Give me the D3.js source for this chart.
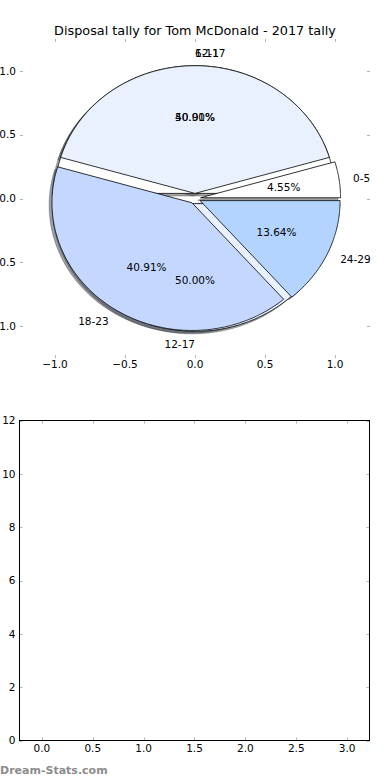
<!DOCTYPE html>
<html>
<head>
<meta charset="utf-8">
<script src="https://cdn.jsdelivr.net/npm/d3@7"></script>
<style>
  html, body { margin: 0; padding: 0; background: #fff; }
  svg { display: block; font-family: "DejaVu Sans", sans-serif; }
</style>
</head>
<body>
<svg id="chart" width="390" height="780"></svg>
<script>
// ---- data ----
const titleText = "Disposal tally for Tom McDonald - 2017 tally";
const pieALabels = ["0-5", "6-11", "18-23", "24-29"];
const pieAValues = [1, 9, 9, 3];
const pieBLabels = ["12-17", "12-17"];
const pieBValues = [11, 11];
const sliceColors = ["#ffffff", "#e9f1ff", "#c4d8ff", "#b3d4ff"];
const pieTicks = [-1.0, -0.5, 0.0, 0.5, 1.0];
const lowerXTicks = [0.0, 0.5, 1.0, 1.5, 2.0, 2.5, 3.0];
const lowerYTicks = [0, 2, 4, 6, 8, 10, 12];
const watermark = "Dream-Stats.com";

// ---- style constants ----
const EXPLODE = 0.04, LABEL_D = 1.1, PCT_D = 0.6;
const FS = 10.5, TFS = 12.8;
const tickColor = "#b4b4b4";

const svg = d3.select("#chart");

// title
svg.append("text").attr("x", 195).attr("y", 34.5).attr("text-anchor", "middle")
  .attr("font-size", TFS).attr("fill", "#000").text(titleText);

// ---- pie axes ----
const px = d3.scaleLinear().domain([-1.25, 1.25]).range([20, 370]);
const py = d3.scaleLinear().domain([-1.25, 1.25]).range([358.1, 38.9]);

const fmtTick = v => (v < 0 ? "\u2212" : "") + Math.abs(v).toFixed(1);

const pieAx = svg.append("g");
pieTicks.forEach(t => {
  const X = Math.round(px(t)) + 0.5, Y = Math.round(py(t)) + 0.5;
  pieAx.append("line").attr("x1", X).attr("x2", X).attr("y1", py.range()[1]).attr("y2", py.range()[1] + 3).attr("stroke", tickColor);
  pieAx.append("line").attr("x1", X).attr("x2", X).attr("y1", py.range()[0]).attr("y2", py.range()[0] - 3).attr("stroke", tickColor);
  pieAx.append("line").attr("y1", Y).attr("y2", Y).attr("x1", px.range()[0]).attr("x2", px.range()[0] + 3).attr("stroke", tickColor);
  pieAx.append("line").attr("y1", Y).attr("y2", Y).attr("x1", px.range()[1]).attr("x2", px.range()[1] - 3).attr("stroke", tickColor);
  pieAx.append("text").attr("x", px(t)).attr("y", py.range()[0] + 10).attr("text-anchor", "middle")
    .attr("font-size", FS).text(fmtTick(t));
  pieAx.append("text").attr("x", px.range()[0] - 4).attr("y", py(t) + 3.8).attr("text-anchor", "end")
    .attr("font-size", FS).text(fmtTick(t));
});

const line = d3.line().x(d => px(d[0])).y(d => py(d[1]));

function buildPie(values, labels) {
  const arcs = d3.pie().sort(null).startAngle(0).endAngle(2 * Math.PI)(values);
  const total = d3.sum(values);
  return arcs.map((a, i) => {
    const f1 = a.startAngle / (2 * Math.PI), f2 = a.endAngle / (2 * Math.PI);
    const mid = Math.PI * (f1 + f2);
    const cx = EXPLODE * Math.cos(mid), cy = EXPLODE * Math.sin(mid);
    const pts = [[cx, cy]];
    const n = Math.max(2, Math.ceil((a.endAngle - a.startAngle) / (Math.PI / 360)));
    for (let k = 0; k <= n; k++) {
      const th = a.startAngle + (a.endAngle - a.startAngle) * k / n;
      pts.push([cx + Math.cos(th), cy + Math.sin(th)]);
    }
    return { pts, mid, cx, cy, color: sliceColors[i % sliceColors.length],
      label: labels[i], pct: (values[i] / total * 100).toFixed(2) + "%" };
  });
}

const pieB = buildPie(pieBValues, pieBLabels);
const pieA = buildPie(pieAValues, pieALabels);
const allWedges = pieB.concat(pieA);

// shadows (all below wedges)
const shadowG = svg.append("g");
allWedges.forEach(w => {
  const c = d3.rgb(w.color);
  const sc = d3.rgb(c.r * 0.3, c.g * 0.3, c.b * 0.3).toString();
  shadowG.append("path")
    .attr("d", line(w.pts.map(p => [p[0] - 0.02, p[1] - 0.02])) + "Z")
    .attr("fill", sc).attr("fill-opacity", 0.5)
    .attr("stroke", sc).attr("stroke-opacity", 0.5).attr("stroke-width", 0.8);
});

// wedges
const wedgeG = svg.append("g");
allWedges.forEach(w => {
  wedgeG.append("path").attr("d", line(w.pts) + "Z")
    .attr("fill", w.color).attr("stroke", "#000").attr("stroke-width", 0.8)
    .attr("stroke-linejoin", "miter");
});

// texts
const textG = svg.append("g").attr("font-size", FS);
[pieB, pieA].forEach(pie => pie.forEach(w => {
  const xt = w.cx + LABEL_D * Math.cos(w.mid), yt = w.cy + LABEL_D * Math.sin(w.mid);
  textG.append("text").attr("x", px(xt)).attr("y", py(yt) + 3.8)
    .attr("text-anchor", xt > 0 ? "start" : "end").text(w.label);
  const xp = w.cx + PCT_D * Math.cos(w.mid), yp = w.cy + PCT_D * Math.sin(w.mid);
  textG.append("text").attr("x", px(xp)).attr("y", py(yp) + 3.8)
    .attr("text-anchor", "middle").text(w.pct);
}));

// ---- lower axes ----
const lx = d3.scaleLinear().domain([-0.22, 3.22]).range([19.5, 369.5]);
const ly = d3.scaleLinear().domain([0, 12]).range([740.5, 420.5]);
const low = svg.append("g");
lowerXTicks.forEach(t => {
  const X = Math.round(lx(t)) + 0.5;
  low.append("line").attr("x1", X).attr("x2", X).attr("y1", ly.range()[0]).attr("y2", ly.range()[0] - 3).attr("stroke", tickColor);
  low.append("line").attr("x1", X).attr("x2", X).attr("y1", ly.range()[1]).attr("y2", ly.range()[1] + 3).attr("stroke", tickColor);
  low.append("text").attr("x", lx(t)).attr("y", ly.range()[0] + 11.5).attr("text-anchor", "middle")
    .attr("font-size", FS).text(t.toFixed(1));
});
lowerYTicks.forEach(t => {
  const Y = Math.round(ly(t)) + 0.5;
  low.append("line").attr("y1", Y).attr("y2", Y).attr("x1", lx.range()[0]).attr("x2", lx.range()[0] + 3).attr("stroke", tickColor);
  low.append("line").attr("y1", Y).attr("y2", Y).attr("x1", lx.range()[1]).attr("x2", lx.range()[1] - 3).attr("stroke", tickColor);
  low.append("text").attr("x", lx.range()[0] - 4).attr("y", ly(t) + 3.8).attr("text-anchor", "end")
    .attr("font-size", FS).text(String(t));
});
low.append("rect").attr("x", lx.range()[0]).attr("y", ly.range()[1])
  .attr("width", lx.range()[1] - lx.range()[0]).attr("height", ly.range()[0] - ly.range()[1])
  .attr("fill", "none").attr("stroke", "#000").attr("stroke-width", 1);

// watermark
svg.append("text").attr("x", 0).attr("y", 774).attr("font-size", 11).attr("font-weight", "bold")
  .attr("fill", "#8c8c8c").text(watermark);
</script>
</body>
</html>
